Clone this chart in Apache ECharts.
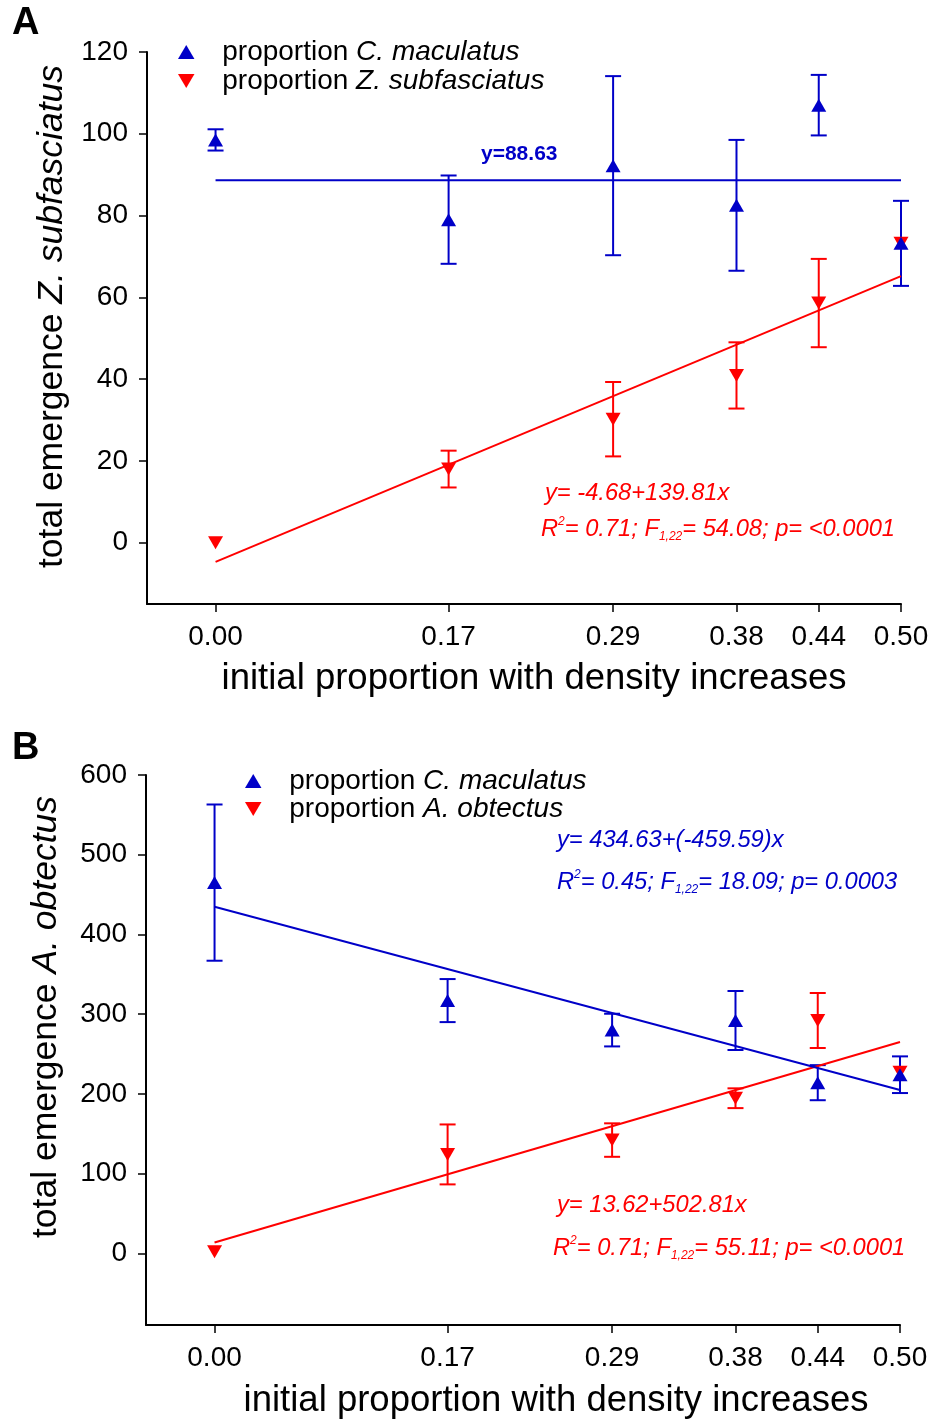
<!DOCTYPE html>
<html>
<head>
<meta charset="utf-8">
<script src="https://cdn.jsdelivr.net/npm/echarts@6/dist/echarts.min.js"></script>
<style>
  html, body { margin: 0; padding: 0; background: #fff; }
  #container { width: 932px; height: 1420px; }
</style>
</head>
<body>
<div id="container"></div>
<script>
// x positions shared by both panels
var props = [0, 0.17, 0.29, 0.38, 0.44, 0.50];
var xTicks = [0, 0.17, 0.29, 0.38, 0.44, 0.50];

// panel A
var aTicks = [0, 20, 40, 60, 80, 100, 120];
var aBlueMean = [98.5, 79, 92.2, 82.5, 107, 73.2];
var aBlueErr = [2.6, 10.8, 21.9, 16, 7.4, 10.4];
var aRedMean = [0, 18, 30.2, 40.9, 58.6, 73.2];
var aRedErr = [0, 4.5, 9.1, 8.1, 10.8, 0];
var aBlueLine = [88.63, 88.63];      // y=88.63
var aRedLine = [-4.68, 65.2];        // fit ends at x=0 and x=0.5

// panel B
var bTicks = [0, 100, 200, 300, 400, 500, 600];
var bBlueMean = [465, 317, 280, 292, 214, 224];
var bBlueErr = [98, 27, 20.5, 37, 22, 23];
var bRedMean = [2, 124, 142, 194.5, 292, 227];
var bRedErr = [0, 37.6, 21, 12.4, 34.5, 0];
var bBlueLine = [434.6, 204.8];
var bRedLine = [13.6, 265.0];
var lineX = [0, 0.5];

var BLUE = '#0000c8';
var RED = '#ff0000';
var FONT = '"Liberation Sans", Arial, sans-serif';
var UP = 'path://M10,0L20,17L0,17Z';
var DOWN = 'path://M0,0L20,0L10,17Z';

function pts(xs, ys) {
  return xs.map(function (x, i) { return [x, ys[i]]; });
}
function bars(means, errs) {
  var out = [];
  props.forEach(function (x, i) {
    if (errs[i] > 0) out.push([x, means[i] - errs[i], means[i] + errs[i]]);
  });
  return out;
}
function errorBar(color) {
  return function (params, api) {
    var x = api.value(0);
    var top = api.coord([x, api.value(2)]);
    var bot = api.coord([x, api.value(1)]);
    var w = 8;
    var st = { stroke: color, lineWidth: 2 };
    return {
      type: 'group',
      children: [
        { type: 'line', shape: { x1: top[0], y1: top[1], x2: bot[0], y2: bot[1] }, style: st },
        { type: 'line', shape: { x1: top[0] - w, y1: top[1], x2: top[0] + w, y2: top[1] }, style: st },
        { type: 'line', shape: { x1: bot[0] - w, y1: bot[1], x2: bot[0] + w, y2: bot[1] }, style: st }
      ]
    };
  };
}

var legendNames = {
  'A-C': '{n|proportion }{i|C. maculatus}',
  'A-Z': '{n|proportion }{i|Z. subfasciatus}',
  'B-C': '{n|proportion }{i|C. maculatus}',
  'B-A': '{n|proportion }{i|A. obtectus}'
};
function legendRich(lh) {
  return {
    n: { fontSize: 28, fontFamily: FONT, color: '#000', lineHeight: lh },
    i: { fontSize: 28, fontFamily: FONT, color: '#000', fontStyle: 'italic', lineHeight: lh }
  };
}

function xAxisCfg(grid, padLeft, gap) {
  return {
    type: 'value', gridIndex: grid, min: -0.05, max: 0.5,
    name: 'initial proportion with density increases',
    nameLocation: 'middle', nameGap: gap,
    nameTextStyle: { fontSize: 36.5, fontFamily: FONT, color: '#000', padding: [0, 0, 0, padLeft] },
    axisLine: { onZero: false, lineStyle: { color: '#000', width: 2 } },
    axisTick: { customValues: xTicks, length: 8, lineStyle: { color: '#000', width: 1.5 } },
    axisLabel: {
      customValues: xTicks, margin: 19, fontSize: 28, fontFamily: FONT, color: '#000',
      formatter: function (v) { return v.toFixed(2); }
    },
    splitLine: { show: false }
  };
}
function yAxisCfg(grid, min, max, ticks, name, padLeft, gap) {
  return {
    type: 'value', gridIndex: grid, min: min, max: max,
    name: name, nameLocation: 'middle', nameRotate: 90, nameGap: gap,
    nameTextStyle: {
      fontSize: 35.5, fontFamily: FONT, color: '#000', padding: [0, 0, 0, padLeft],
      rich: {
        r: { fontSize: 35.5, fontFamily: FONT, color: '#000' },
        i: { fontSize: 35.5, fontFamily: FONT, color: '#000', fontStyle: 'italic' }
      }
    },
    axisLine: { onZero: false, lineStyle: { color: '#000', width: 2 } },
    axisTick: { customValues: ticks, length: 8, lineStyle: { color: '#000', width: 1.5 } },
    axisLabel: { customValues: ticks, margin: 19, fontSize: 28, fontFamily: FONT, color: '#000' },
    splitLine: { show: false }
  };
}

function note(x, y, text, color, size) {
  return {
    type: 'text', x: x, y: y, z: 100,
    style: {
      text: text, fill: color, fontSize: size, fontStyle: 'italic', fontFamily: FONT,
      verticalAlign: 'middle', lineHeight: 27,
      rich: {
        sup: { fontSize: 12, fontStyle: 'italic', fontFamily: FONT, fill: color, verticalAlign: 'top', lineHeight: 13 },
        sub: { fontSize: 12, fontStyle: 'italic', fontFamily: FONT, fill: color, verticalAlign: 'bottom', lineHeight: 13 }
      }
    }
  };
}

var dom = document.getElementById('container');
var myChart = echarts.init(dom, null, { renderer: 'canvas' });
var option = {
  backgroundColor: '#fff',
  animation: false,
  grid: [
    { left: 147, right: 31, top: 52, height: 552 },
    { left: 146, right: 32, top: 775, height: 551 }
  ],
  legend: [
    {
      data: [{ name: 'A-C', icon: UP }, { name: 'A-Z', icon: DOWN }],
      orient: 'vertical', left: 178, top: 38, padding: 0,
      itemWidth: 62, itemHeight: 14, itemGap: 1,
      formatter: function (n) { return legendNames[n]; },
      textStyle: { rich: legendRich(29) },
      selectedMode: false
    },
    {
      data: [{ name: 'B-C', icon: UP }, { name: 'B-A', icon: DOWN }],
      orient: 'vertical', left: 245, top: 767, padding: 0,
      itemWidth: 62, itemHeight: 14, itemGap: 0,
      formatter: function (n) { return legendNames[n]; },
      textStyle: { rich: legendRich(28) },
      selectedMode: false
    }
  ],
  xAxis: [xAxisCfg(0, 20, 56), xAxisCfg(1, 66, 57)],
  yAxis: [
    yAxisCfg(0, -15, 120, aTicks, '{r|total emergence }{i|Z. subfasciatus}', 23, 72),
    yAxisCfg(1, -90, 600, bTicks, '{r|total emergence }{i|A. obtectus}', 66, 82)
  ],
  series: [
    // panel A
    { type: 'custom', xAxisIndex: 0, yAxisIndex: 0, renderItem: errorBar(RED), data: bars(aRedMean, aRedErr) },
    { name: 'A-Z', type: 'scatter', xAxisIndex: 0, yAxisIndex: 0, symbol: DOWN, symbolSize: [15, 13],
      itemStyle: { color: RED, opacity: 1 }, data: pts(props, aRedMean) },
    { type: 'line', xAxisIndex: 0, yAxisIndex: 0, showSymbol: false, lineStyle: { color: RED, width: 2 },
      data: pts(lineX, aRedLine) },
    { type: 'line', xAxisIndex: 0, yAxisIndex: 0, showSymbol: false, lineStyle: { color: BLUE, width: 2 },
      data: pts(lineX, aBlueLine) },
    { type: 'custom', xAxisIndex: 0, yAxisIndex: 0, renderItem: errorBar(BLUE), data: bars(aBlueMean, aBlueErr) },
    { name: 'A-C', type: 'scatter', xAxisIndex: 0, yAxisIndex: 0, symbol: UP, symbolSize: [15, 13],
      itemStyle: { color: BLUE, opacity: 1 }, data: pts(props, aBlueMean) },
    // panel B
    { type: 'custom', xAxisIndex: 1, yAxisIndex: 1, renderItem: errorBar(RED), data: bars(bRedMean, bRedErr) },
    { name: 'B-A', type: 'scatter', xAxisIndex: 1, yAxisIndex: 1, symbol: DOWN, symbolSize: [15, 13],
      itemStyle: { color: RED, opacity: 1 }, data: pts(props, bRedMean) },
    { type: 'line', xAxisIndex: 1, yAxisIndex: 1, showSymbol: false, lineStyle: { color: RED, width: 2 },
      data: pts(lineX, bRedLine) },
    { type: 'line', xAxisIndex: 1, yAxisIndex: 1, showSymbol: false, lineStyle: { color: BLUE, width: 2 },
      data: pts(lineX, bBlueLine) },
    { type: 'custom', xAxisIndex: 1, yAxisIndex: 1, renderItem: errorBar(BLUE), data: bars(bBlueMean, bBlueErr) },
    { name: 'B-C', type: 'scatter', xAxisIndex: 1, yAxisIndex: 1, symbol: UP, symbolSize: [15, 13],
      itemStyle: { color: BLUE, opacity: 1 }, data: pts(props, bBlueMean) }
  ],
  graphic: [
    { type: 'text', x: 12, y: 24, style: { text: 'A', fontSize: 38, fontWeight: 'bold', fontFamily: FONT, fill: '#000', verticalAlign: 'middle' } },
    { type: 'text', x: 12, y: 749, style: { text: 'B', fontSize: 38, fontWeight: 'bold', fontFamily: FONT, fill: '#000', verticalAlign: 'middle' } },
    { type: 'text', x: 481, y: 154, style: { text: 'y=88.63', fontSize: 21, fontWeight: 'bold', fontFamily: FONT, fill: BLUE, verticalAlign: 'middle' } },
    note(545, 493, 'y= -4.68+139.81x', RED, 23.7),
    note(541, 529, 'R{sup|2}= 0.71; F{sub|1,22}= 54.08; p= <0.0001', RED, 23.7),
    note(557, 840, 'y= 434.63+(-459.59)x', BLUE, 23.7),
    note(557, 882, 'R{sup|2}= 0.45; F{sub|1,22}= 18.09; p= 0.0003', BLUE, 23.7),
    note(557, 1205, 'y= 13.62+502.81x', RED, 23.7),
    note(553, 1248, 'R{sup|2}= 0.71; F{sub|1,22}= 55.11; p= <0.0001', RED, 23.7)
  ]
};
myChart.setOption(option, true);
</script>
</body>
</html>
